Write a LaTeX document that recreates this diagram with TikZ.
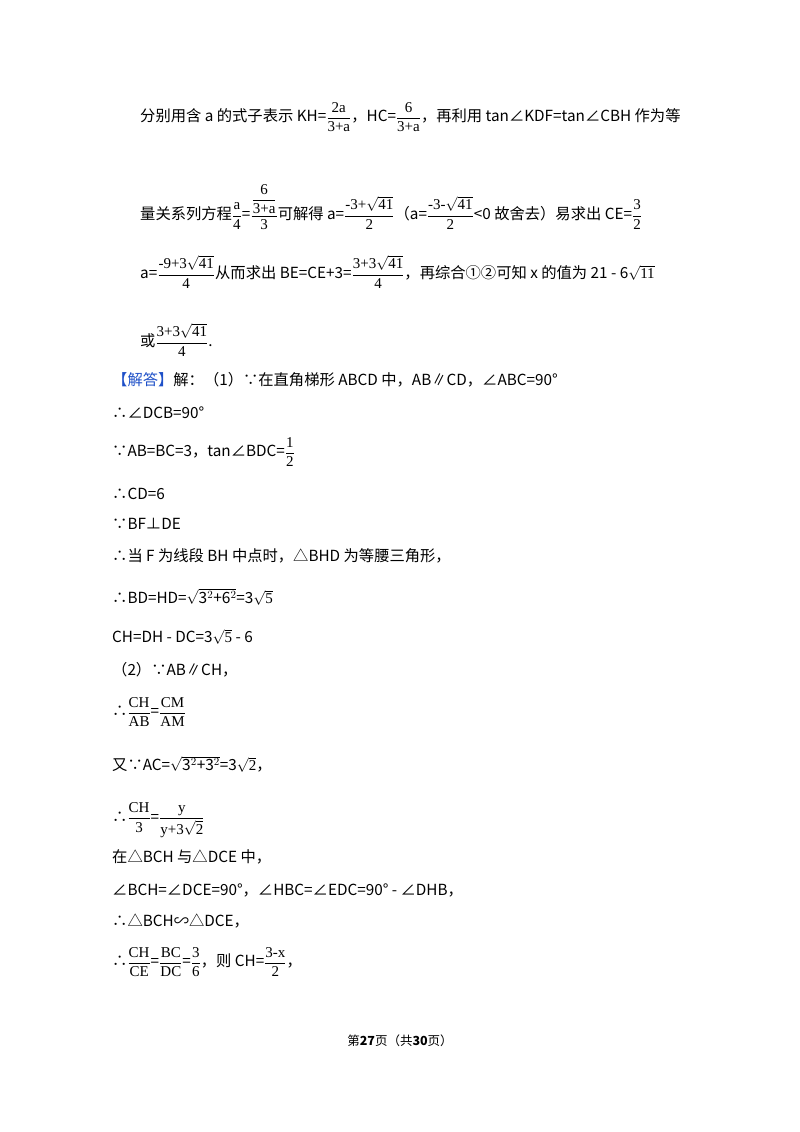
\documentclass[tikz,border=0pt]{standalone}
\usepackage{amsmath}
\usepackage{fontspec}
\setmainfont{Noto Sans CJK SC}
\newfontfamily\ffont{Liberation Serif}
\newcommand\fs{\ffont\fontsize{15}{16}\selectfont}
\newcommand\fr[2]{$\genfrac{}{}{0.6pt}{0}{\hbox{\fs #1}}{\hbox{\fs #2}}$}
\newcommand\sq[1]{$\sqrt{\hbox{\fs #1}}$}
\newcommand\sqb[1]{$\sqrt{\hbox{\fontsize{15.5}{16}\selectfont #1}}$}
\begin{document}
\begin{tikzpicture}[x=1pt,y=-1pt,t/.style={anchor=west,inner sep=0pt,font=\fontsize{15.3}{17}\selectfont}]
\useasboundingbox (0,0) rectangle (800,1132);
\fill[white] (0,0) rectangle (800,1132);
\node[t] (l1) at (140,117) {分别用含 a 的式子表示 KH=\fr{2a}{3+a}，HC=\fr{6}{3+a}，再利用 tan∠KDF=tan∠CBH 作为等};
\node[t] (l2) at (140,207) {量关系列方程\fr{a}{4}=$\genfrac{}{}{0.6pt}{0}{\hbox{\fr{6}{3+a}}}{\hbox{\fs 3}}$可解得 a=\fr{-3+\sq{41}}{2}（a=\fr{-3-\sq{41}}{2}<0 故舍去）易求出 CE=\fr{3}{2}};
\node[t] (l3) at (140,272) {a=\fr{-9+3\sq{41}}{4}从而求出 BE=CE+3=\fr{3+3\sq{41}}{4}，再综合①②可知 x 的值为 21 - 6\sq{11}};
\node[t] (l4) at (140,340) {或\fr{3+3\sq{41}}{4}.};
\node[t] (l5) at (112,380) {\textcolor[RGB]{30,80,200}{【解答】}解：（1）∵在直角梯形 ABCD 中，AB∥CD，∠ABC=90°};
\node[t] (l6) at (112,413) {∴∠DCB=90°};
\node[t] (l7) at (112,452) {∵AB=BC=3，tan∠BDC=\fr{1}{2}};
\node[t] (l8) at (112,494) {∴CD=6};
\node[t] (l9) at (112,524) {∵BF⊥DE};
\node[t] (l10) at (112,556) {∴当 F 为线段 BH 中点时，△BHD 为等腰三角形，};
\node[t] (l11) at (112,597) {∴BD=HD=\sqb{3$^2$+6$^2$}=3\sq{5}};
\node[t] (l12) at (112,637) {CH=DH - DC=3\sq{5} - 6};
\node[t] (l13) at (112,670) {（2）∵AB∥CH，};
\node[t] (l14) at (112,712) {∴\fr{CH}{AB}=\fr{CM}{AM}};
\node[t] (l15) at (112,764) {又∵AC=\sqb{3$^2$+3$^2$}=3\sq{2}，};
\node[t] (l16) at (112,820) {∴\fr{CH}{3}=\fr{y}{y+3\sq{2}}};
\node[t] (l17) at (112,857) {在△BCH 与△DCE 中，};
\node[t] (l18) at (112,890) {∠BCH=∠DCE=90°，∠HBC=∠EDC=90° - ∠DHB，};
\node[t] (l19) at (112,921) {∴△BCH∽△DCE，};
\node[t] (l20) at (112,962) {∴\fr{CH}{CE}=\fr{BC}{DC}=\fr{3}{6}，则 CH=\fr{3-x}{2}，};
\node[inner sep=0pt,font=\fontsize{12.5}{14}\selectfont] (ft) at (400,1041) {第\textbf{27}页（共\textbf{30}页）};
\end{tikzpicture}
\end{document}
